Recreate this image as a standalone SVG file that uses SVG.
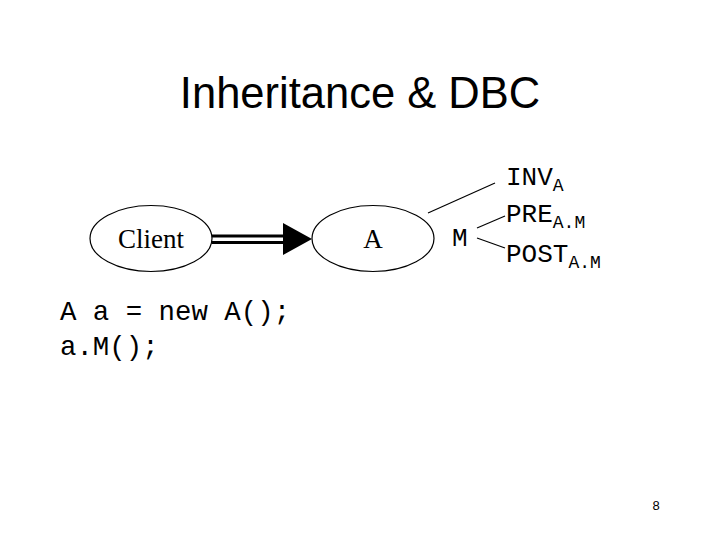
<svg xmlns="http://www.w3.org/2000/svg" width="720" height="540" viewBox="0 0 720 540">
<style>
.node{fill:#fff;stroke:#000;stroke-width:1.2}
.serif{font-family:"Liberation Serif","Times New Roman",serif;font-size:27px;fill:#000}
.mono{font-family:"Liberation Mono","Courier New",monospace;fill:#000}
.ln{stroke:#000;stroke-width:1.2;fill:none}
</style>
<defs>
<marker id="ah" markerWidth="30" markerHeight="32" refX="30" refY="16" orient="auto" markerUnits="userSpaceOnUse">
<path d="M0,0 L30,16 L0,32 Z" fill="#000"/>
</marker>
</defs>
<rect width="720" height="540" fill="#fff"/>
<text x="360" y="108" text-anchor="middle" font-family="Liberation Sans,Arial,sans-serif" font-size="43.5" fill="#000">Inheritance &amp; DBC</text>
<g id="connectors">
<line x1="212" y1="236" x2="284" y2="236" stroke="#000" stroke-width="3"/>
<line x1="212" y1="242.5" x2="284" y2="242.5" stroke="#000" stroke-width="3"/>
<path d="M283,223 L312,239 L283,255 Z" fill="#000"/>
<line class="ln" x1="428" y1="213" x2="495" y2="183"/>
<line class="ln" x1="477" y1="228" x2="505" y2="216"/>
<line class="ln" x1="477" y1="238" x2="505" y2="248"/>
</g>
<g id="client">
<ellipse class="node" cx="151" cy="238.5" rx="61" ry="33"/>
<text class="serif" x="151" y="248" text-anchor="middle">Client</text>
</g>
<g id="a">
<ellipse class="node" cx="373" cy="238.5" rx="61" ry="33"/>
<text class="serif" x="373" y="248" text-anchor="middle">A</text>
</g>
<g id="m">
<text class="mono" x="452" y="246" font-size="26">M</text>
</g>
<g id="inv">
<text class="mono" x="506" y="185" font-size="26">INV<tspan font-size="18" dy="6">A</tspan></text>
</g>
<g id="pre">
<text class="mono" x="506" y="222" font-size="26">PRE<tspan font-size="18" dy="6">A.M</tspan></text>
</g>
<g id="post">
<text class="mono" x="506" y="262" font-size="26">POST<tspan font-size="18" dy="6">A.M</tspan></text>
</g>
<g id="code">
<text class="mono" x="60" y="320" font-size="27.4">A a = new A();</text>
<text class="mono" x="60" y="355" font-size="27.4">a.M();</text>
</g>
<text x="656" y="510" text-anchor="middle" font-family="Liberation Sans,Arial,sans-serif" font-size="13" fill="#000">8</text>
</svg>
